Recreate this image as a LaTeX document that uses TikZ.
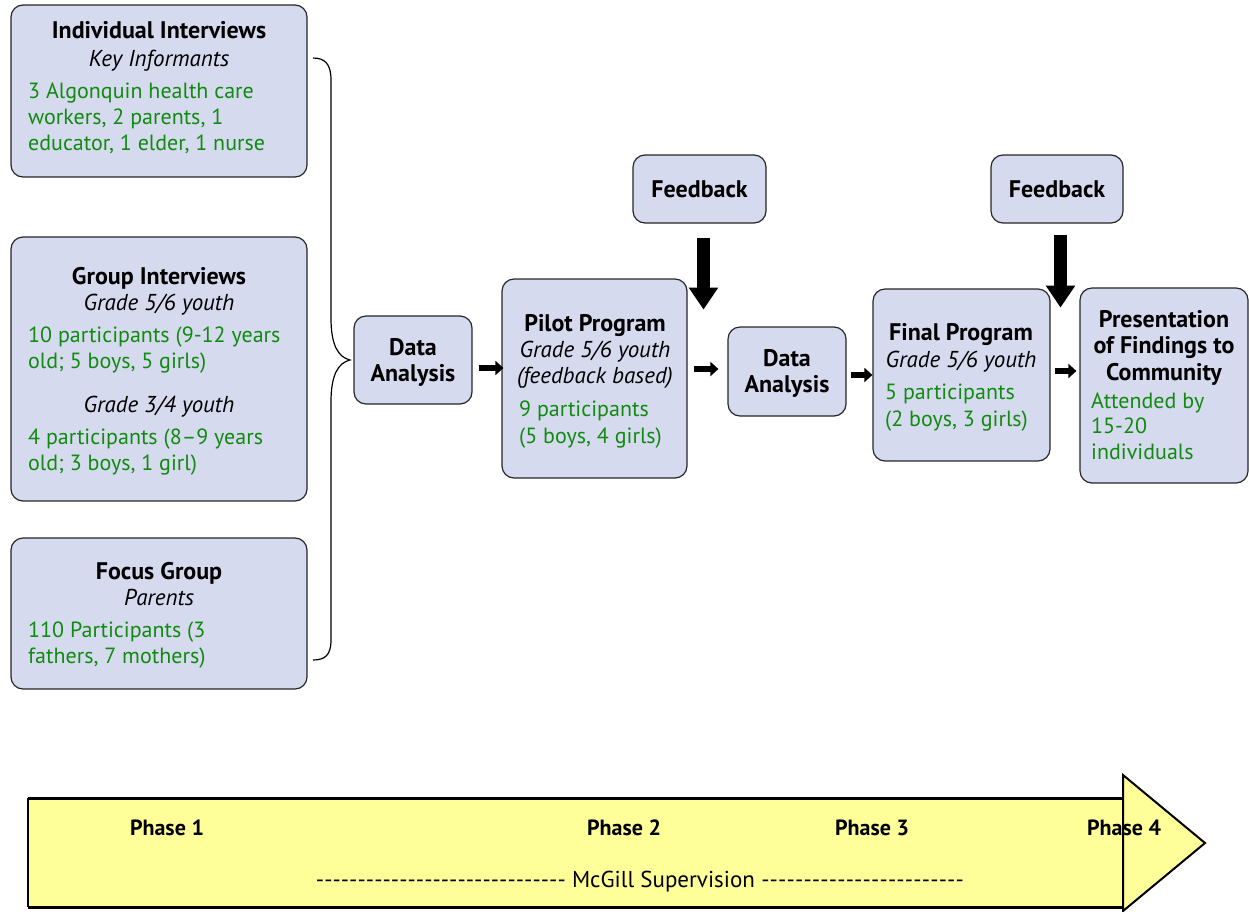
\documentclass[tikz,border=0pt]{standalone}
\usepackage{fontspec}
\setmainfont{PT Sans}
\usetikzlibrary{arrows.meta,calc}
\definecolor{boxfill}{RGB}{214,218,238}
\definecolor{grn}{RGB}{16,138,16}
\definecolor{yel}{RGB}{255,255,153}
\newcommand\dashfill[1]{\hbox to #1{\xleaders\hbox{-}\hfill}}
\tikzset{
  box/.style={draw=black!85, line width=1.2pt, fill=boxfill, rounded corners=12pt, inner sep=0pt},
  ttl/.style={font=\fontsize{24}{26}\selectfont\bfseries, anchor=base, inner sep=0pt},
  sub/.style={font=\fontsize{23}{26}\selectfont\itshape, anchor=base, inner sep=0pt},
  gtx/.style={font=\fontsize{22}{26}\selectfont, text=grn, anchor=base west, inner sep=0pt},
  phase/.style={font=\fontsize{22}{26}\selectfont\bfseries, anchor=base, inner sep=0pt},
  sarrow/.style={line width=5.5pt, -{Triangle[length=8pt,width=14pt]}},
  barrow/.style={line width=13pt, -{Triangle[length=22pt,width=28pt]}},
}
\begin{document}
\begin{tikzpicture}[x=1pt,y=-1pt]
\useasboundingbox (0,0) rectangle (1249,911);
% boxes
\node[box, minimum width=296, minimum height=172] (ii) at (159,91) {};
\node[box, minimum width=296, minimum height=264] (gi) at (159,369) {};
\node[box, minimum width=296, minimum height=151] (fg) at (159,613.5) {};
\node[box, minimum width=118, minimum height=88] (da1) at (413,360) {};
\node[box, minimum width=185, minimum height=199] (pilot) at (594.5,378.5) {};
\node[box, minimum width=133, minimum height=68] (fb1) at (699.5,189) {};
\node[box, minimum width=118, minimum height=89] (da2) at (787,371.5) {};
\node[box, minimum width=177, minimum height=172] (final) at (961.5,375) {};
\node[box, minimum width=132, minimum height=68] (fb2) at (1057,189) {};
\node[box, minimum width=168, minimum height=195] (pres) at (1164,385.5) {};

% box 1 text
\node[ttl] (t1) at (159,38) {Individual Interviews};
\node[sub] (s1) at (159,66) {Key Informants};
\node[gtx] (g1a) at (28,98) {3 Algonquin health care};
\node[gtx] (g1b) at (28,124) {workers, 2 parents, 1};
\node[gtx] (g1c) at (28,150) {educator, 1 elder, 1 nurse};
% box 2 text
\node[ttl] (t2) at (159,284) {Group Interviews};
\node[sub] (s2) at (159,310) {Grade 5/6 youth};
\node[gtx] (g2a) at (28,342) {10 participants (9-12 years};
\node[gtx] (g2b) at (28,368) {old; 5 boys, 5 girls)};
\node[sub] (s2b) at (159,412) {Grade 3/4 youth};
\node[gtx] (g2c) at (28,444) {4 participants (8--9 years};
\node[gtx] (g2d) at (28,470) {old; 3 boys, 1 girl)};
% box 3 text
\node[ttl] (t3) at (159,579) {Focus Group};
\node[sub] (s3) at (159,605) {Parents};
\node[gtx] (g3a) at (28,637) {110 Participants (3};
\node[gtx] (g3b) at (28,663) {fathers, 7 mothers)};
% data analysis 1
\node[ttl] (d1a) at (413,355) {Data};
\node[ttl] (d1b) at (413,381) {Analysis};
% pilot
\node[ttl] (pt) at (595,331) {Pilot Program};
\node[sub] (ps1) at (595,357) {Grade 5/6 youth};
\node[sub] (ps2) at (595,383) {(feedback based)};
\node[gtx] (pg1) at (519,416) {9 participants};
\node[gtx] (pg2) at (519,443) {(5 boys, 4 girls)};
% feedback
\node[ttl] (f1) at (699.5,197) {Feedback};
\node[ttl] (f2) at (1057,197) {Feedback};
% data analysis 2
\node[ttl] (d2a) at (787,366) {Data};
\node[ttl] (d2b) at (787,392) {Analysis};
% final
\node[ttl] (ft) at (961,340) {Final Program};
\node[sub] (fs) at (961,367) {Grade 5/6 youth};
\node[gtx] (fg1) at (885,399) {5 participants};
\node[gtx] (fg2) at (885,426) {(2 boys, 3 girls)};
% presentation
\node[ttl] (pr1) at (1164,327) {Presentation};
\node[ttl] (pr2) at (1164,353) {of Findings to};
\node[ttl] (pr3) at (1164,380) {Community};
\node[gtx] (pg3) at (1091,408) {Attended by};
\node[gtx] (pg4) at (1091,433) {15-20};
\node[gtx] (pg5) at (1091,459) {individuals};

% brace
\draw[line width=1.2pt] (313,58) .. controls (325,58) and (331,64) .. (331,80) -- (331,318)
  .. controls (331,345) and (338,357) .. (350,360)
  .. controls (338,363) and (331,375) .. (331,402) -- (331,640)
  .. controls (331,655) and (325,660) .. (313,660);

% small arrows
\draw[sarrow, shorten >=4pt] ([shift={(6,8)}]da1.east) -- ([shift={(6,8)}]da1.east -| pilot.west);
\draw[sarrow, shorten >=15pt] ([shift={(6,-9.5)}]pilot.east) -- ([shift={(6,-9.5)}]pilot.east -| da2.west);
\draw[sarrow, shorten >=4pt] ([shift={(4,3.5)}]da2.east) -- ([shift={(4,3.5)}]da2.east -| final.west);
\draw[sarrow, shorten >=7pt] ([shift={(4,-4)}]final.east) -- ([shift={(4,-4)}]final.east -| pres.west);
% feedback arrows
\draw[barrow] ([shift={(4,14)}]fb1.south) -- ++(0,72);
\draw[barrow] ([shift={(3.5,11)}]fb2.south) -- ++(0,73);

% bottom arrow
\fill[yel] (28,798) rectangle (1123,907);
\draw[line width=3pt] (28,798) -- (1123,798);
\draw[line width=3pt] (28,907) -- (1123,907);
\draw[line width=2pt] (28,798) -- (28,907);
\draw[line width=2pt, fill=yel, line join=miter] (1123,775) -- (1205,843) -- (1123,911) -- cycle;
\node[phase] (ph1) at (167,835) {Phase 1};
\node[phase] (ph2) at (624,835) {Phase 2};
\node[phase] (ph3) at (872,835) {Phase 3};
\node[phase] (ph4) at (1124,835) {Phase 4};
\node[font=\fontsize{23}{26}\selectfont, anchor=base, inner sep=0pt] (mcg) at (640,887) {\dashfill{250pt}\ McGill Supervision\ \dashfill{203pt}};
\end{tikzpicture}
\end{document}
